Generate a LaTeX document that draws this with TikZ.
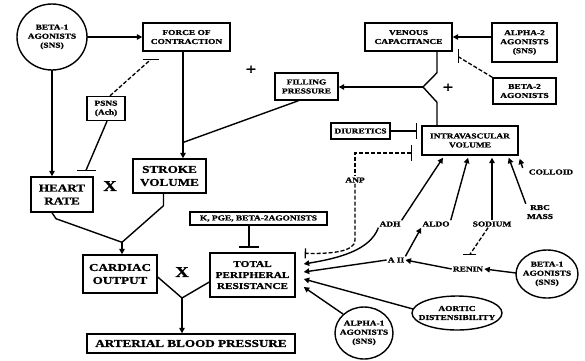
\documentclass[tikz,border=0pt]{standalone}
\usepackage{fontspec}
\newfontfamily\labfont{Liberation Serif}[FakeStretch=1.25, BoldFeatures={FakeBold=1.2}]
\usetikzlibrary{arrows.meta,calc}
\newcommand\smtxt{\fontsize{7.5}{9}\selectfont}
\newcommand\bgtxt{\fontsize{10.5}{13}\selectfont}
\newcommand\mdtxt{\fontsize{9}{11}\selectfont}
\begin{document}
\begin{tikzpicture}[x=1pt,y=-1pt,
  ln/.style={line width=1.4pt},
  arr/.style={line width=1.4pt,-{Triangle[length=5.5pt,width=5.5pt]}},
  dline/.style={line width=1.3pt,dash pattern=on 4pt off 2pt},
  box/.style={draw,line width=1.4pt,inner sep=0pt,align=center,font=\labfont\bfseries\smtxt},
  bigbox/.style={draw,line width=1.4pt,inner sep=0pt,align=center,font=\labfont\bfseries\bgtxt},
  lab/.style={inner sep=1pt,align=center,font=\labfont\bfseries\smtxt},
  op/.style={inner sep=0pt,font=\labfont\bfseries\fontsize{15}{15}\selectfont}]
\useasboundingbox (0,0) rectangle (585,360);
% nodes
\node[lab] (b1) at (52,37) {BETA-1\\AGONISTS\\(SNS)};
\draw[ln] (b1) ellipse [x radius=35pt, y radius=33pt];
\node[box, minimum width=87pt, minimum height=28pt] (foc) at (186.5,37) {FORCE OF\\CONTRACTION};
\node[box, minimum width=38pt, minimum height=24pt] (psns) at (106,108.5) {PSNS\\(Ach)};
\node[bigbox, minimum width=62pt, minimum height=35pt] (hr) at (62,194.5) {HEART\\RATE};
\node[bigbox, minimum width=73pt, minimum height=34pt] (sv) at (169.5,176) {STROKE\\VOLUME};
\node[box, minimum width=63pt, minimum height=27pt] (fp) at (306.5,86.5) {FILLING\\PRESSURE};
\node[box, minimum width=87pt, minimum height=28pt] (vc) at (408.5,37) {VENOUS\\CAPACITANCE};
\node[box, minimum width=65pt, minimum height=39pt] (a2) at (524.5,42.5) {ALPHA-2\\AGONISTS\\(SNS)};
\node[box, minimum width=63pt, minimum height=26pt] (b2) at (524.5,91) {BETA-2\\AGONISTS};
\node[box, minimum width=59pt, minimum height=16pt] (diu) at (360.5,131) {DIURETICS};
\node[box, minimum width=96pt, minimum height=29pt] (iv) at (470,140.5) {INTRAVASCULAR\\VOLUME};
\node[box, minimum width=137pt, minimum height=13pt] (kpge) at (258.5,218.5) {K, PGE, BETA-2AGONISTS};
\node[bigbox, font=\labfont\bfseries\mdtxt, minimum width=85pt, minimum height=44pt] (tpr) at (252.5,275) {TOTAL\\PERIPHERAL\\RESISTANCE};
\node[bigbox, minimum width=74pt, minimum height=38pt] (co) at (120,274) {CARDIAC\\OUTPUT};
\node[bigbox, minimum width=208pt, minimum height=19pt] (abp) at (191,343.5) {ARTERIAL BLOOD PRESSURE};
\node[lab] (b1r) at (547,274) {BETA-1\\AGONISTS\\(SNS)};
\draw[ln] (b1r) ellipse [x radius=31pt, y radius=24pt];
\node[lab] (ao) at (457,313) {AORTIC\\DISTENSIBILITY};
\draw[ln] (ao) ellipse [x radius=45pt, y radius=17pt];
\node[lab] (a1) at (364,333) {ALPHA-1\\AGONISTS\\(SNS)};
\draw[ln] (a1) ellipse [x radius=29pt, y radius=26pt];
% small labels
\node[lab, fill=white] (anp) at (355,180) {ANP};
\node[lab] (adh) at (390,224) {ADH};
\node[lab] (aldo) at (436,224) {ALDO};
\node[lab] (sod) at (492,224) {SODIUM};
\node[lab] (aii) at (396,260) {A II};
\node[lab] (renin) at (468,269) {RENIN};
\node[lab] (rbc) at (540,212) {RBC\\MASS};
\node[lab] (col) at (551,172) {COLLOID};
\node[op] (x1) at (110,186) {X};
\node[op] (x2) at (182,272) {X};
\node[op] (p1) at (251,70) {+};
\node[op] (p2) at (448,88) {+};
% connectors: top left
\draw[arr] ($(b1)+(35,0)$) -- (foc.west);
\draw[arr] ($(b1)+(0,33)$) -- (b1 |- hr.north);
\coordinate (focs) at ($(foc.south)+(-3.5,0)$);
\draw[arr] (focs) -- (focs |- sv.north);
\draw[dline] ($(psns.north)+(4,0)$) -- ($(foc.south)+(-36,8)$);
\draw[ln] ($(foc.south)+(-44,8)$) -- ($(foc.south)+(-28,8)$);
\draw[ln] ($(psns.south)+(1,0)$) -- ($(hr.north)+(24,-6)$);
\draw[ln] ($(hr.north)+(15,-6)$) -- ($(hr.north)+(34,-6)$);
\coordinate (j1) at ($(co.north)+(2,-12)$);
\draw[ln] ($(hr.south)+(-10,0)$) -- ++(4,6) -- (j1);
\draw[ln] ($(sv.south)+(-6,0)$) -- ++(0,12) -- (j1);
\draw[arr] (j1) -- (j1 |- co.north);
\draw[ln] ($(fp.south)+(-8,0)$) -- ($(sv.north)+(14,-16)$);
% venous / intravascular
\coordinate (yj) at (423,87);
\draw[ln] ($(vc.south)+(28.5,0)$) -- ++(0,21) -- (yj) -- ($(iv.north)+(-33,-23)$) -- ($(iv.north)+(-33,0)$);
\draw[arr] (yj) -- (fp.east |- yj);
\draw[arr] (a2.west |- vc) -- (vc.east);
\draw[dline] (b2.north west) -- ($(vc.east)+(6,20)$);
\draw[ln] ($(vc.east)+(6,12)$) -- ($(vc.east)+(6,26)$);
\draw[ln,-{Bar[width=16pt]}] (diu.east) -- ($(iv.west)+(-4,-9.5)$);
\draw[dline,{Bar[width=16pt]}-] ($(iv.west)+(-9,12.5)$) -| (anp.north);
\draw[dline,-{Bar[width=10pt]}] (anp.south) -- (355,240) .. controls (355,252) and (330,254) .. ($(tpr.north east)+(9,1)$);
% hormonal arrows
\draw[arr] (adh.north east) -- ($(iv.south)+(-27,2)$);
\draw[arr] (aldo.north east) -- ($(iv.south)+(-2,2)$);
\draw[arr] (sod.north) -- ($(sod.north |- iv.south)+(0,2)$);
\draw[arr] (rbc.north west) -- ($(iv.south east)+(-10,2)$);
\draw[arr] ($(col.west)+(-5,-4)$) -- ($(iv.south east)+(1,3)$);
\draw[arr] (adh.south west) .. controls (370,250) and (340,258) .. ($(tpr.east)+(8,-11)$);
\draw[arr] (aii.west) -- ($(tpr.east)+(8,-3)$);
\draw[arr] (aii.north east) -- (aldo.south west);
\draw[arr] (renin.west) -- (aii.east);
\draw[arr] ($(b1r)+(-31,-1)$) -- (renin.east);
\draw[dline] ($(sod.south)+(-4,0)$) -- ($(renin.north)+(2,-11)$);
\draw[ln] ($(renin.north)+(-5,-11)$) -- ($(renin.north)+(8,-11)$);
\draw[arr] ($(ao)+(-44,-4)$) -- ($(tpr.east)+(8,4)$);
\draw[arr] ($(a1)+(-21,-19)$) -- ($(tpr.east)+(8,12)$);
\draw[ln,-{Bar[width=20pt]}] ($(kpge.south)+(-9.5,0)$) -- ++(0,22);
% bottom
\coordinate (j2) at (182,298);
\draw[ln] ($(co.east)+(0,3)$) -- (j2);
\draw[ln] ($(tpr.west)+(0,7)$) -- (j2);
\draw[arr] (j2) -- (j2 |- abp.north);
\end{tikzpicture}
\end{document}
